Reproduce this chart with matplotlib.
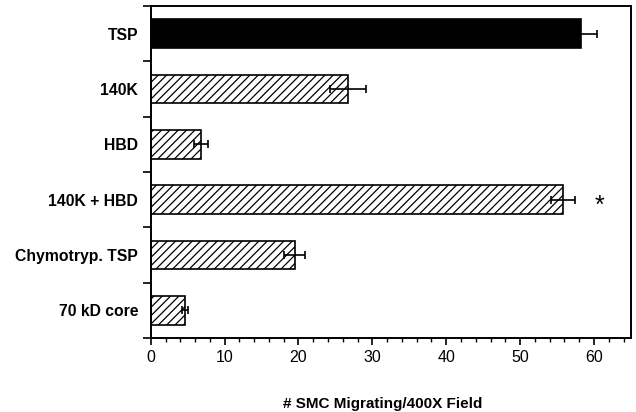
import matplotlib
matplotlib.use("Agg")
import matplotlib.pyplot as plt
import numpy as np
from matplotlib.ticker import MultipleLocator

plt.rcParams["font.family"] = ["Liberation Sans", "DejaVu Sans"]
plt.rcParams["hatch.linewidth"] = 0.9

# data
labels = ["TSP", "140K", "HBD", "140K + HBD", "Chymotryp. TSP", "70 kD core"]
values = [58.2, 26.7, 6.8, 55.8, 19.5, 4.6]
errors = [2.2, 2.5, 1.0, 1.6, 1.4, 0.4]
solid = [True, False, False, False, False, False]
signif = [False, False, False, True, False, False]

fig = plt.figure(figsize=(6.36, 4.12), dpi=100)
ax = fig.add_axes([0.237, 0.180, 0.755, 0.805])

y = np.arange(len(labels))
for i, (v, e, s) in enumerate(zip(values, errors, solid)):
    if s:
        ax.barh(y[i], v, height=0.53, color="black", edgecolor="black", lw=1.2)
    else:
        ax.barh(y[i], v, height=0.52, color="white", edgecolor="black",
                hatch="////", lw=1.2)
ax.errorbar(values, y, xerr=errors, fmt="none", ecolor="black",
            elinewidth=1.2, capsize=2.8, capthick=1.2)

for i, sg in enumerate(signif):
    if sg:
        ax.text(values[i] + errors[i] + 3.3, y[i] + 0.12, "*",
                fontsize=18, ha="center", va="center")

ax.set_xlim(0, 65)
ax.set_ylim(len(labels) - 0.5, -0.5)
ax.xaxis.set_major_locator(MultipleLocator(10))
ax.xaxis.set_minor_locator(MultipleLocator(2))
ax.set_yticks(np.arange(-0.5, len(labels), 1.0))
ax.set_yticklabels([])
ax.set_yticks(y, minor=True)
ax.set_yticklabels(labels, minor=True, fontsize=11.3, fontweight="bold")
ax.tick_params(axis="y", which="major", direction="out", length=6, width=1.2)
ax.tick_params(axis="y", which="minor", length=0, pad=9)
ax.tick_params(axis="x", which="major", direction="out", length=5, width=1.2,
               labelsize=11.5, pad=4)
ax.tick_params(axis="x", which="minor", direction="out", length=3, width=1.0)
for sp in ax.spines.values():
    sp.set_linewidth(1.4)

ax.set_xlabel("# SMC Migrating/400X Field", fontsize=11, fontweight="bold")
ax.xaxis.set_label_coords(0.483, -0.178)

fig.savefig("out.png", dpi=100)
